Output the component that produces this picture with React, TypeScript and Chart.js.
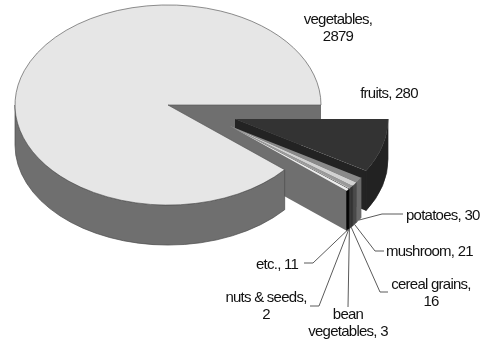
import { useEffect, useRef } from "react";
import { Chart, registerables } from "chart.js";

Chart.register(...registerables);

// Food groups, clockwise from the east edge of the pie.
const categories = ["fruits", "potatoes", "mushroom", "cereal grains", "bean vegetables", "nuts & seeds", "etc.", "vegetables"];
const values = [280, 30, 21, 16, 3, 2, 11, 2879];
const topColors = ["#333333", "#8a8a8a", "#d2d2d2", "#9a9a9a", "#ededed", "#0a0a0a", "#eeeeee", "#e6e6e6"];
const rimColors = ["#222222", "#6a6a6a", "#4a4a4a", "#333333", "#777777", "#111111", "#050505", "#6f6f6f"];
const wallColors = ["#232323", "#777777", "#777777", "#777777", "#777777", "#777777", "#6f6f6f", "#6f6f6f"];

// Pie geometry on the page.
const CENTER_X = 168;
const CENTER_Y = 105;
const RADIUS = 153;
const TILT = 0.654;
const DEPTH = 40;
const FRUIT_SHIFT = { x: 67, y: 14 };
const GROUP_SHIFT = { x: 62, y: 21 };

// Callout text and the leader bend for every slice that has one.
type Callout = { lines: string[]; x: number; y: number; align: CanvasTextAlign; knee?: [number, number][] };
const callouts: Callout[] = [
  { lines: ["fruits, 280"], x: 389, y: 94, align: "center" },
  { lines: ["potatoes, 30"], x: 406, y: 216, align: "left", knee: [[403, 214], [382, 214]] },
  { lines: ["mushroom, 21"], x: 386, y: 252, align: "left", knee: [[384, 251], [375, 251]] },
  { lines: ["cereal grains,", "16"], x: 431, y: 285, align: "center", knee: [[388, 292], [380, 292]] },
  { lines: ["bean", "vegetables, 3"], x: 348, y: 315, align: "center", knee: [[348, 307]] },
  { lines: ["nuts & seeds,", "2"], x: 266, y: 298, align: "center", knee: [[310, 306], [319, 306]] },
  { lines: ["etc., 11"], x: 277, y: 265, align: "center", knee: [[304, 263], [313, 263]] },
  { lines: ["vegetables,", "2879"], x: 338, y: 20, align: "center" },
];
const LINE_HEIGHT = 17;

const shiftOf = (index: number) =>
  index === categories.length - 1 ? { x: 0, y: 0 } : index === 0 ? FRUIT_SHIFT : GROUP_SHIFT;

// The extruded faces are drawn per slice, back to front, around each top face.
const pie3d = {
  id: "pie3d",
  beforeDatasetDraw(chart: Chart) {
    const ctx = chart.ctx;
    const arcs = chart.getDatasetMeta(0).data as any[];
    const last = arcs.length - 1;

    const wall = (index: number, angle: number) => {
      const s = shiftOf(index);
      const ox = CENTER_X + s.x;
      const oy = CENTER_Y + s.y;
      const r = arcs[index].outerRadius;
      const px = ox + r * Math.cos(angle);
      const py = oy + r * TILT * Math.sin(angle);
      ctx.fillStyle = wallColors[index];
      ctx.beginPath();
      ctx.moveTo(ox, oy);
      ctx.lineTo(px, py);
      ctx.lineTo(px, py + DEPTH);
      ctx.lineTo(ox, oy + DEPTH);
      ctx.closePath();
      ctx.fill();
    };

    const rim = (index: number) => {
      const a = arcs[index];
      const from = Math.max(a.startAngle, 0);
      const to = Math.min(a.endAngle, Math.PI);
      if (to <= from) return;
      const s = shiftOf(index);
      const ox = CENTER_X + s.x;
      const oy = CENTER_Y + s.y;
      const r = a.outerRadius;
      ctx.fillStyle = rimColors[index];
      ctx.strokeStyle = index === last ? "#4c4c4c" : rimColors[index];
      ctx.lineWidth = 0.7;
      ctx.beginPath();
      ctx.ellipse(ox, oy, r, r * TILT, 0, from, to);
      ctx.ellipse(ox, oy + DEPTH, r, r * TILT, 0, to, from, true);
      ctx.closePath();
      ctx.fill();
      ctx.stroke();
    };

    const top = (index: number) => {
      const s = shiftOf(index);
      const a = arcs[index];
      ctx.save();
      ctx.translate(CENTER_X + s.x, CENTER_Y + s.y);
      ctx.scale(1, TILT);
      ctx.translate(-a.x, -a.y);
      a.draw(ctx);
      ctx.restore();
    };

    // Back wall of the notch sits behind everything else.
    wall(last, arcs[last].endAngle);
    for (let i = 0; i < last; i++) {
      if (Math.cos(arcs[i].endAngle) > 0) wall(i, arcs[i].endAngle);
      rim(i);
      top(i);
    }
    rim(last);
    top(last);
    return false;
  },
  afterDraw(chart: Chart) {
    const ctx = chart.ctx;
    const arcs = chart.getDatasetMeta(0).data as any[];
    ctx.save();
    ctx.strokeStyle = "#5a5a5a";
    ctx.lineWidth = 1;
    ctx.fillStyle = "#111111";
    ctx.font = '15px "Liberation Sans"';
    (ctx as any).letterSpacing = "-0.75px";
    ctx.textBaseline = "middle";
    callouts.forEach((c, i) => {
      if (c.knee) {
        const a = arcs[i];
        const s = shiftOf(i);
        const mid = (a.startAngle + a.endAngle) / 2;
        const ex = CENTER_X + s.x + a.outerRadius * Math.cos(mid);
        const ey = CENTER_Y + s.y + a.outerRadius * TILT * Math.sin(mid) + DEPTH;
        ctx.beginPath();
        c.knee.forEach(([x, y], k) => (k === 0 ? ctx.moveTo(x, y) : ctx.lineTo(x, y)));
        ctx.lineTo(ex, ey);
        ctx.stroke();
      }
      ctx.textAlign = c.align;
      c.lines.forEach((line, k) => ctx.fillText(line, c.x, c.y + k * LINE_HEIGHT));
    });
    ctx.restore();
  },
};

export default function App() {
  const ref = useRef<HTMLCanvasElement>(null);
  useEffect(() => {
    document.body.style.margin = "0";
    document.body.style.background = "#ffffff";
    const chart = new Chart(ref.current!, {
      type: "pie",
      data: {
        labels: categories,
        datasets: [
          {
            data: values,
            backgroundColor: topColors,
            borderWidth: categories.map((_, i) => (i === categories.length - 1 ? 0.8 : 0)),
            borderColor: "#555555",
          },
        ],
      },
      options: {
        responsive: false,
        animation: false,
        rotation: 90,
        radius: RADIUS,
        plugins: { legend: { display: false }, tooltip: { enabled: false } },
      } as any,
      plugins: [pie3d as any],
    });
    return () => chart.destroy();
  }, []);
  return <canvas ref={ref} width={492} height={342} style={{ display: "block" }} />;
}
